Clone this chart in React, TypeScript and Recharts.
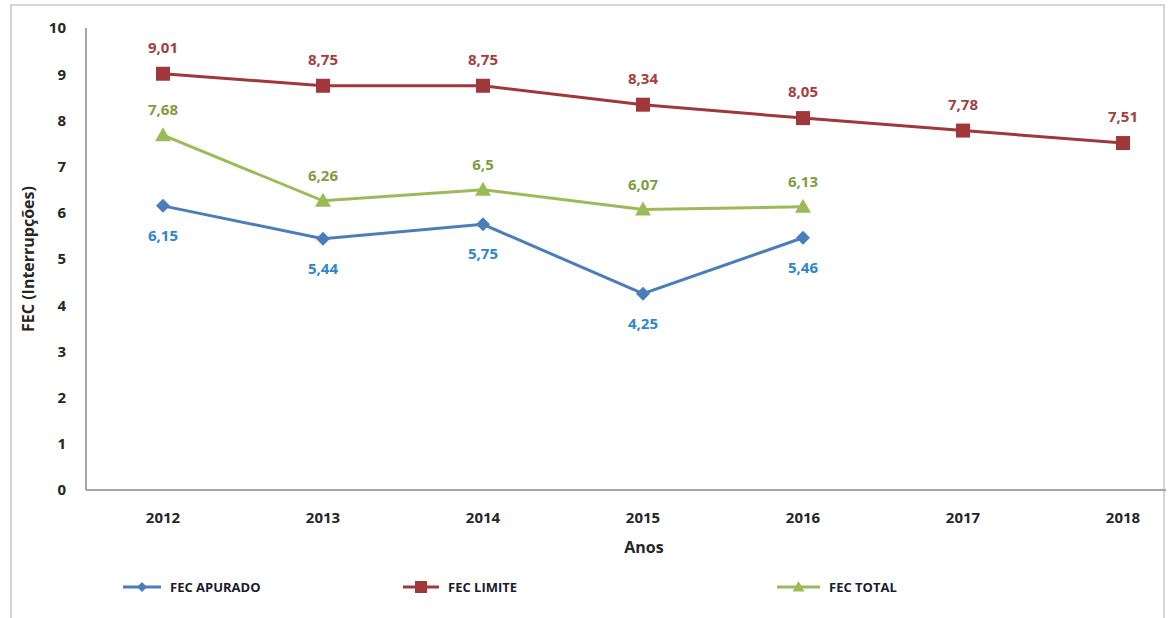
import { CartesianGrid, Legend, LabelList, Line, LineChart, XAxis, YAxis } from "recharts";

const anos = ["2012", "2013", "2014", "2015", "2016", "2017", "2018"];
const fecApurado = [6.15, 5.44, 5.75, 4.25, 5.46, null, null];
const fecLimite = [9.01, 8.75, 8.75, 8.34, 8.05, 7.78, 7.51];
const fecTotal = [7.68, 6.26, 6.5, 6.07, 6.13, null, null];
const yTicks = [0, 1, 2, 3, 4, 5, 6, 7, 8, 9, 10];

const data = anos.map((ano, i) => ({
  ano,
  apurado: fecApurado[i],
  limite: fecLimite[i],
  total: fecTotal[i],
}));

const BLUE = "#4A7EBB";
const BLUE_TXT = "#2E86CC";
const RED = "#A0373A";
const RED_TXT = "#A53E40";
const GREEN = "#9BBB59";
const GREEN_TXT = "#7E9E3E";
const FONT = "'Open Sans', 'Noto Sans', sans-serif";

const fmt = (v: number) => String(v).replace(".", ",");

function Diamond({ cx, cy, fill, r = 7 }: any) {
  if (cx == null || cy == null) return null;
  return <path d={`M${cx},${cy - r}L${cx + r},${cy}L${cx},${cy + r}L${cx - r},${cy}Z`} fill={fill} />;
}
function Square({ cx, cy, fill, s = 7 }: any) {
  if (cx == null || cy == null) return null;
  return <rect x={cx - s} y={cy - s} width={s * 2} height={s * 2} fill={fill} />;
}
function Triangle({ cx, cy, fill, s = 8 }: any) {
  if (cx == null || cy == null) return null;
  return <path d={`M${cx},${cy - s}L${cx + s},${cy + s * 0.75}L${cx - s},${cy + s * 0.75}Z`} fill={fill} />;
}

function makeLabel(color: string, dy: number) {
  return (props: any) => {
    const { x, y, value } = props;
    if (value == null || x == null) return null;
    return (
      <text
        x={x}
        y={y + dy}
        textAnchor="middle"
        dominantBaseline="central"
        fill={color}
        fontFamily={FONT}
        fontWeight={700}
        fontSize={15}
      >
        {fmt(value)}
      </text>
    );
  };
}

const legendItems = [
  { name: "FEC APURADO", color: BLUE, left: 123, lineW: 38, marker: "diamond" },
  { name: "FEC LIMITE", color: RED, left: 403, lineW: 36, marker: "square" },
  { name: "FEC TOTAL", color: GREEN, left: 777, lineW: 43, marker: "triangle" },
];

function FecLegend() {
  return (
    <div style={{ position: "relative", width: 1168, height: 40 }}>
      {legendItems.map((it) => (
        <div
          key={it.name}
          style={{ position: "absolute", left: it.left, top: 12, display: "flex", alignItems: "center" }}
        >
          <svg width={it.lineW} height={16}>
            <line x1={0} y1={8} x2={it.lineW} y2={8} stroke={it.color} strokeWidth={3} />
            {it.marker === "diamond" && <Diamond cx={it.lineW / 2} cy={8} r={5} fill={it.color} />}
            {it.marker === "square" && <Square cx={it.lineW / 2} cy={8} s={6} fill={it.color} />}
            {it.marker === "triangle" && <Triangle cx={it.lineW / 2} cy={8} s={6} fill={it.color} />}
          </svg>
          <span
            style={{
              marginLeft: 9,
              fontFamily: "'Liberation Sans Narrow', 'Open Sans', sans-serif",
              fontWeight: 700,
              fontSize: 13,
              color: "#1b1b2f",
            }}
          >
            {it.name}
          </span>
        </div>
      ))}
    </div>
  );
}

export default function App() {
  return (
    <div style={{ position: "absolute", left: 0, top: 0, width: 1168, height: 618, background: "#fff", overflow: "hidden" }}>
      <div
        style={{
          position: "absolute",
          left: 10,
          top: 4,
          width: 1155,
          height: 640,
          border: "2px solid #D6D6D6",
          boxSizing: "border-box",
        }}
      />
      <LineChart width={1168} height={618} data={data} margin={{ top: 28, right: 2, left: 0, bottom: 12 }}>
        <CartesianGrid vertical={false} horizontal={false} />
        <XAxis
          dataKey="ano"
          padding={{ left: 77, right: 43 }}
          height={76}
          tickLine={false}
          tickSize={0}
          tickMargin={22}
          axisLine={{ stroke: "#A6A6A6", strokeWidth: 2 }}
          tick={{ fill: "#262626", fontSize: 15, fontWeight: 700, fontFamily: FONT }}
          label={{
            value: "Anos",
            position: "insideBottom",
            offset: 13,
            dx: 18,
            style: { fill: "#262626", fontSize: 16, fontWeight: 700, fontFamily: FONT },
          }}
        />
        <YAxis
          width={86}
          domain={[0, 10]}
          ticks={yTicks}
          interval={0}
          tickLine={false}
          tickSize={0}
          tickMargin={20}
          axisLine={{ stroke: "#A6A6A6", strokeWidth: 2 }}
          tick={{ fill: "#262626", fontSize: 15, fontWeight: 700, fontFamily: FONT }}
          label={{
            value: "FEC (Interrupções)",
            angle: -90,
            position: "insideLeft",
            offset: 28,
            style: { textAnchor: "middle", fill: "#262626", fontSize: 16, fontWeight: 700, fontFamily: FONT },
          }}
        />
        <Legend verticalAlign="bottom" content={() => <FecLegend />} wrapperStyle={{ left: 0, width: 1168, height: 40 }} />
        <Line
          dataKey="limite"
          stroke={RED}
          strokeWidth={3}
          dot={(p: any) => <Square key={`l${p.index}`} cx={p.cx} cy={p.cy} fill={RED} />}
          isAnimationActive={false}
        >
          <LabelList dataKey="limite" content={makeLabel(RED_TXT, -27)} />
        </Line>
        <Line
          dataKey="total"
          stroke={GREEN}
          strokeWidth={3}
          dot={(p: any) => <Triangle key={`t${p.index}`} cx={p.cx} cy={p.cy} fill={GREEN} />}
          isAnimationActive={false}
        >
          <LabelList dataKey="total" content={makeLabel(GREEN_TXT, -26)} />
        </Line>
        <Line
          dataKey="apurado"
          stroke={BLUE}
          strokeWidth={3}
          dot={(p: any) => <Diamond key={`a${p.index}`} cx={p.cx} cy={p.cy} fill={BLUE} />}
          isAnimationActive={false}
        >
          <LabelList dataKey="apurado" content={makeLabel(BLUE_TXT, 29)} />
        </Line>
      </LineChart>
    </div>
  );
}
